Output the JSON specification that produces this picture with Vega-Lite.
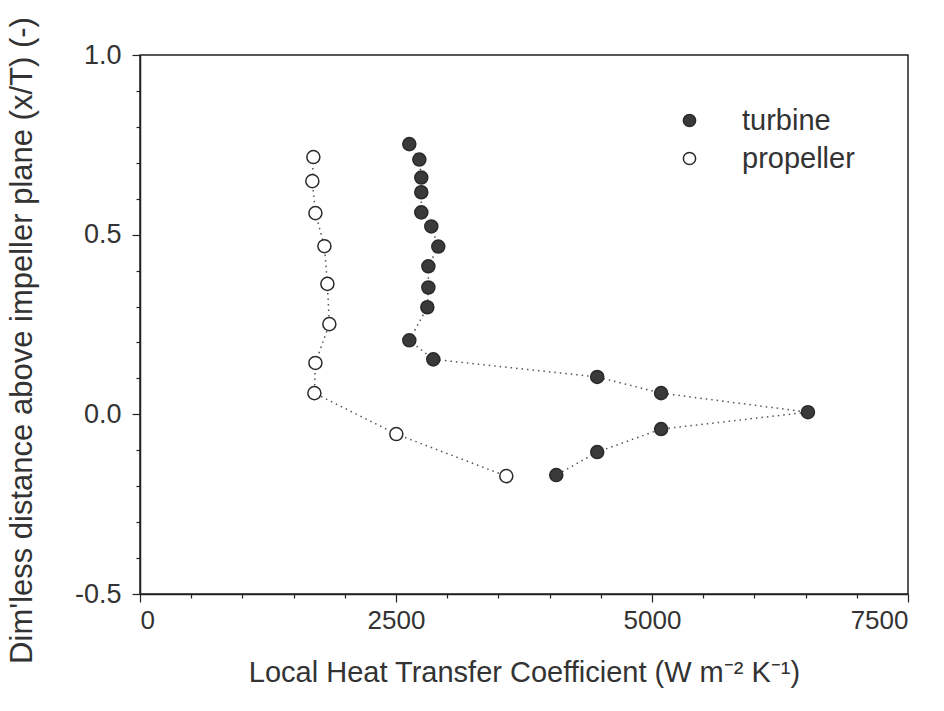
{
  "$schema": "https://vega.github.io/schema/vega-lite/v6.json",
  "autosize": "none",
  "padding": {"left": 140, "top": 55, "right": 36, "bottom": 117},
  "width": 768,
  "height": 539,
  "background": "white",
  "config": {
    "view": {"stroke": "#222", "strokeWidth": 1.5},
    "axis": {"domainColor": "#222", "tickColor": "#222", "labelColor": "#333", "titleColor": "#333", "grid": false, "domainWidth": 1.5, "tickWidth": 1.2}
  },
  "data": {
    "values": [
      {"series": "turbine", "ord": 1, "h": 2630, "y": 0.752},
      {"series": "turbine", "ord": 2, "h": 2728, "y": 0.709},
      {"series": "turbine", "ord": 3, "h": 2747, "y": 0.659},
      {"series": "turbine", "ord": 4, "h": 2747, "y": 0.618},
      {"series": "turbine", "ord": 5, "h": 2747, "y": 0.562},
      {"series": "turbine", "ord": 6, "h": 2845, "y": 0.523},
      {"series": "turbine", "ord": 7, "h": 2913, "y": 0.467},
      {"series": "turbine", "ord": 8, "h": 2816, "y": 0.412},
      {"series": "turbine", "ord": 9, "h": 2816, "y": 0.353},
      {"series": "turbine", "ord": 10, "h": 2806, "y": 0.298},
      {"series": "turbine", "ord": 11, "h": 2630, "y": 0.206},
      {"series": "turbine", "ord": 12, "h": 2864, "y": 0.153},
      {"series": "turbine", "ord": 13, "h": 4465, "y": 0.104},
      {"series": "turbine", "ord": 14, "h": 5089, "y": 0.059},
      {"series": "turbine", "ord": 15, "h": 6523, "y": 0.006},
      {"series": "turbine", "ord": 16, "h": 5089, "y": -0.041},
      {"series": "turbine", "ord": 17, "h": 4465, "y": -0.105},
      {"series": "turbine", "ord": 18, "h": 4065, "y": -0.169},
      {"series": "propeller", "ord": 1, "h": 1693, "y": 0.716},
      {"series": "propeller", "ord": 2, "h": 1683, "y": 0.649},
      {"series": "propeller", "ord": 3, "h": 1713, "y": 0.56},
      {"series": "propeller", "ord": 4, "h": 1801, "y": 0.468},
      {"series": "propeller", "ord": 5, "h": 1830, "y": 0.363},
      {"series": "propeller", "ord": 6, "h": 1849, "y": 0.251},
      {"series": "propeller", "ord": 7, "h": 1713, "y": 0.143},
      {"series": "propeller", "ord": 8, "h": 1703, "y": 0.059},
      {"series": "propeller", "ord": 9, "h": 2503, "y": -0.055},
      {"series": "propeller", "ord": 10, "h": 3577, "y": -0.172}
    ]
  },
  "encoding": {
    "x": {
      "field": "h", "type": "quantitative",
      "scale": {"domain": [0, 7500], "nice": false, "zero": false},
      "axis": {
        "title": "Local Heat Transfer Coefficient (W m⁻² K⁻¹)",
        "values": [0, 500, 1000, 1500, 2000, 2500, 3000, 3500, 4000, 4500, 5000, 5500, 6000, 6500, 7000, 7500],
        "labelExpr": "datum.value % 2500 === 0 ? datum.label : ''",
        "format": "d",
        "tickSize": {"condition": {"test": "datum.value % 2500 === 0", "value": 8}, "value": 4},
        "labelPadding": 5,
        "labelFont": "Liberation Sans",
        "labelFontSize": 26,
        "titleFont": "Liberation Sans",
        "titleFontSize": 29,
        "titleFontWeight": "normal",
        "titleBaseline": "middle",
        "titleY": 78
      }
    },
    "y": {
      "field": "y", "type": "quantitative",
      "scale": {"domain": [-0.5, 1.0], "nice": false, "zero": false},
      "axis": {
        "title": "Dim'less distance above impeller plane  (x/T) (-)",
        "values": [-0.5, -0.4, -0.3, -0.2, -0.1, 0, 0.1, 0.2, 0.3, 0.4, 0.5, 0.6, 0.7, 0.8, 0.9, 1.0],
        "format": ".1f",
        "labelExpr": "abs(datum.value * 2 - round(datum.value * 2)) < 0.001 ? replace(datum.label, '−', '-') : ''",
        "tickSize": {"condition": {"test": "abs(datum.value * 2 - round(datum.value * 2)) < 0.001", "value": 8}, "value": 4},
        "labelPadding": 11,
        "labelFont": "Liberation Sans",
        "labelFontSize": 27,
        "titleFont": "Liberation Sans",
        "titleFontSize": 31,
        "titleFontWeight": "normal",
        "titleAngle": 270,
        "titleBaseline": "middle",
        "titleX": -118,
        "titleY": 285
      }
    }
  },
  "layer": [
    {
      "mark": {"type": "line", "strokeDash": [1.5, 4], "strokeWidth": 1.5, "color": "#555"},
      "encoding": {
        "detail": {"field": "series"},
        "order": {"field": "ord", "type": "quantitative"}
      }
    },
    {
      "mark": {"type": "point", "shape": "circle", "filled": true, "size": 170, "stroke": "#2a2a2a", "strokeWidth": 1.5, "opacity": 1},
      "encoding": {
        "fill": {
          "field": "series", "type": "nominal",
          "scale": {"domain": ["turbine", "propeller"], "range": ["#3a3a3a", "white"]},
          "legend": {
            "title": null,
            "orient": "none",
            "legendX": 535,
            "legendY": 51,
            "symbolType": "circle",
            "symbolSize": 150,
            "symbolStrokeColor": "#2a2a2a",
            "symbolStrokeWidth": 1.5,
            "labelFont": "Liberation Sans",
            "labelFontSize": 29,
            "labelColor": "#333",
            "labelOffset": 38,
            "rowPadding": 8
          }
        }
      }
    }
  ]
}
